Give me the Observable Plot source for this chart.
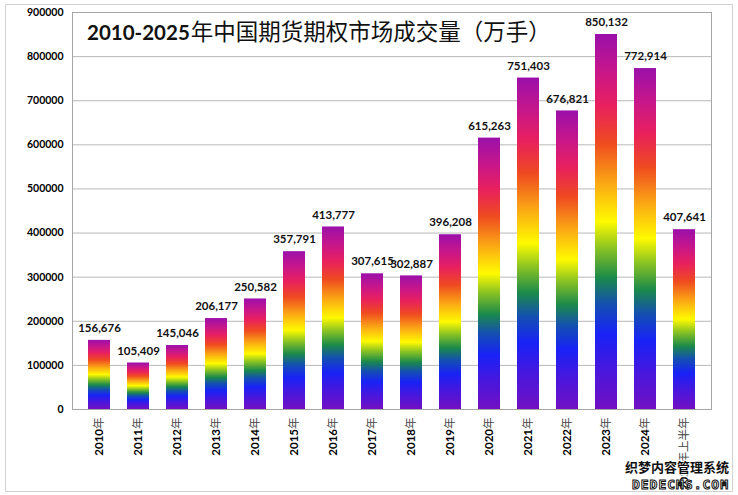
<!DOCTYPE html>
<html>
<head>
<meta charset="utf-8">
<script src="https://cdn.jsdelivr.net/npm/d3@7"></script>
<script src="https://cdn.jsdelivr.net/npm/@observablehq/plot@0.6"></script>
<style>
html,body{margin:0;padding:0;background:#fff;}
#wrap{position:relative;width:738px;height:495px;overflow:hidden;}
#border{position:absolute;left:5px;top:4px;width:728px;height:488px;border:1px solid #d2d2d2;box-sizing:border-box;pointer-events:none;}
#chart svg{display:block;}
</style>
</head>
<body>
<div id="wrap">
  <div id="chart"></div>
  <div id="border"></div>
</div>
<script>
const years = ["2010年","2011年","2012年","2013年","2014年","2015年","2016年","2017年","2018年","2019年","2020年","2021年","2022年","2023年","2024年","2025年上半年"];
const volumes = [156676,105409,145046,206177,250582,357791,413777,307615,302887,396208,615263,751403,676821,850132,772914,407641];
const yTicks = [0,100000,200000,300000,400000,500000,600000,700000,800000,900000];
const titleNum = "2010-2025";
const titleText = "年中国期货期权市场成交量（万手）";

const data = years.map((y, i) => ({year: y, value: volumes[i]}));
const fmt = d3.format(",");

const svg = Plot.plot({
  width: 738,
  height: 495,
  marginLeft: 72,
  marginRight: 27,
  marginTop: 12,
  marginBottom: 86,
  style: {fontFamily: "Lato, 'Noto Sans CJK SC', sans-serif", fontSize: "11px", color: "#000", background: "#fff"},
  x: {domain: years, paddingInner: 0.425, paddingOuter: 0.2125, label: null},
  y: {domain: [0, 900000], label: null},
  marks: [
    Plot.gridY(yTicks, {stroke: "#b8b8b8", strokeOpacity: 1}),
    Plot.frame({stroke: "#a6a6a6"}),
    Plot.barY(data, {x: "year", y: "value", fill: "url(#rainbow)"}),
    Plot.text(data, {x: "year", y: "value", text: d => fmt(d.value), dy: -12, fontWeight: "bold", fontSize: 11.5, fill: "#111"}),
    Plot.axisY({ticks: yTicks, tickFormat: d => String(d), tickSize: 0, tickPadding: 9, fontWeight: "bold", fontSize: 10.5, label: null}),
    Plot.axisX({tickRotate: -90, tickSize: 0, tickPadding: 8, fontWeight: "bold", fontSize: 11.5, label: null})
  ]
});

const s = d3.select(svg);
const defs = s.insert("defs", ":first-child");
const grad = defs.append("linearGradient").attr("id", "rainbow")
  .attr("x1", 0).attr("y1", 1).attr("x2", 0).attr("y2", 0);
[
  [0, "#7210c2"], [0.1, "#4a16dc"], [0.2, "#1822f6"], [0.28, "#1450b0"],
  [0.35, "#1b8a4a"], [0.43, "#8cc422"], [0.5, "#fffa00"], [0.6, "#fbaa14"],
  [0.71, "#ef4a20"], [0.81, "#e8205e"], [0.9, "#c8168a"], [1, "#9a10aa"]
].forEach(([o, c]) => grad.append("stop").attr("offset", o).attr("stop-color", c));

// mixed-weight x tick labels: digits bold, CJK regular
s.selectAll('g[aria-label="x-axis tick label"] text').each(function() {
  const t = d3.select(this);
  const str = t.text();
  const m = str.match(/^(\d+)(.*)$/);
  if (!m) return;
  t.text(null);
  t.append("tspan").attr("font-weight", "bold").text(m[1]);
  t.append("tspan").attr("font-weight", "normal").attr("font-family", "'Noto Sans CJK SC'").attr("fill", "#444").text(m[2]);
});

// title inside plot area
const title = s.append("text").attr("x", 87).attr("y", 40).attr("text-anchor", "start").attr("fill", "#111");
title.append("tspan").attr("font-family", "Lato, sans-serif").attr("font-weight", "bold").attr("font-size", 20.5).text(titleNum);
title.append("tspan").attr("font-family", "'Noto Sans CJK SC'").attr("font-weight", "normal").attr("font-size", 22.5).attr("dx", 1).text(titleText);

// watermark
const wm = s.append("g").attr("text-anchor", "end");
wm.append("text").attr("x", 729).attr("y", 472)
  .attr("font-family", "'Noto Sans CJK SC'").attr("font-weight", "bold").attr("font-size", 13)
  .attr("fill", "#111").attr("stroke", "#fff").attr("stroke-width", 2.5).attr("paint-order", "stroke")
  .text("织梦内容管理系统");
wm.append("text").attr("x", 729).attr("y", 489)
  .attr("font-family", "'DejaVu Sans Mono', monospace").attr("font-weight", "bold").attr("font-size", 13)
  .attr("letter-spacing", 1)
  .attr("fill", "#fff").attr("stroke", "#111").attr("stroke-width", 1)
  .text("DEDECMS.COM");

document.getElementById("chart").appendChild(svg);
</script>
</body>
</html>
